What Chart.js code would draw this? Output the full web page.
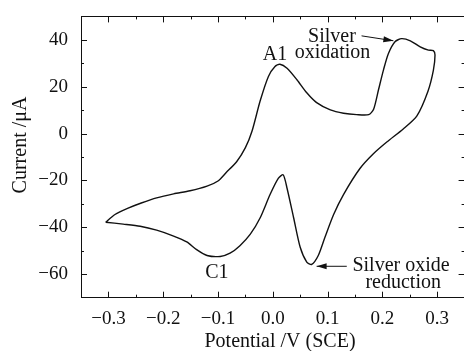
<!DOCTYPE html>
<html>
<head>
<meta charset="utf-8">
<script src="https://cdn.jsdelivr.net/npm/chart.js@4/dist/chart.umd.min.js"></script>
<style>
  html, body { margin: 0; padding: 0; overflow: hidden; background: #fff; }
  #wrap { width: 470px; height: 351px; }
</style>
</head>
<body>
<div id="wrap"><canvas id="cv" width="470" height="351"></canvas></div>
<script>
// Voltamograma (ordem do varrimento, a partir da ponta à esquerda)
const potencial = [
  -0.305, -0.288, -0.264, -0.240, -0.212, -0.181, -0.151, -0.120, -0.100, -0.085,
  -0.066, -0.050, -0.038, -0.023, -0.008, 0.004, 0.013, 0.026, 0.044, 0.062,
  0.080, 0.105, 0.129, 0.153, 0.175, 0.184, 0.193, 0.202, 0.211, 0.223,
  0.235, 0.251, 0.269, 0.284, 0.293, 0.296, 0.293, 0.283, 0.263, 0.238,
  0.208, 0.184, 0.159, 0.129, 0.111, 0.095, 0.083, 0.071, 0.062, 0.050,
  0.038, 0.026, 0.019, 0.010, -0.005, -0.023, -0.041, -0.060, -0.078, -0.096,
  -0.120, -0.139, -0.157, -0.181, -0.212, -0.242, -0.273, -0.305
];
const corrente = [
  -37.8, -34.5, -31.8, -29.6, -27.4, -25.7, -24.4, -22.4, -20.2, -16.6,
  -12.0, -6.0, 1.0, 14.0, 24.4, 28.6, 29.6, 27.9, 23.0, 17.4,
  13.2, 10.1, 8.7, 8.1, 8.1, 10.4, 18.8, 27.2, 34.2, 39.2,
  40.5, 39.6, 37.0, 35.6, 35.4, 33.5, 27.0, 18.0, 7.6, 2.0,
  -3.6, -8.5, -14.9, -26.0, -34.5, -44.3, -52.0, -55.8, -54.8, -48.5,
  -35.9, -23.3, -17.6, -19.1, -26.0, -35.9, -42.9, -47.8, -51.0, -52.4,
  -52.0, -49.5, -46.2, -43.7, -41.2, -39.5, -38.6, -37.8
];

// Escalas e marcas
const xMajor = [-0.3, -0.2, -0.1, 0.0, 0.1, 0.2, 0.3];
const xLabels = ['−0.3', '−0.2', '−0.1', '0.0', '0.1', '0.2', '0.3'];
const xMinor = [-0.25, -0.15, -0.05, 0.05, 0.15, 0.25];
const yMajor = [-60, -40, -20, 0, 20, 40];
const yLabels = ['−60', '−40', '−20', '0', '20', '40'];
const yMinor = [-50, -30, -10, 10, 30];

// Anotações (em unidades dos eixos)
const notaTexto = ['A1', 'Silver', 'oxidation', 'C1', 'Silver oxide', 'reduction'];
const notaX = [0.004, 0.108, 0.109, -0.102, 0.234, 0.238];
const notaY = [31.3, 39.2, 32.1, -61.7, -58.7, -65.9];
const setaDe = [[0.162, 41.7], [0.135, -56.6]];
const setaPara = [[0.220, 39.6], [0.080, -56.6]];

const fonte = '"Liberation Serif", "Times New Roman", serif';
const cor = '#111';

function desenharSeta(ctx, x0, y0, x1, y1) {
    ctx.beginPath();
    ctx.moveTo(x0, y0);
    ctx.lineTo(x1, y1);
    ctx.stroke();
    let ang = Math.atan2(y1 - y0, x1 - x0);
    let L = 10, W = 3;
    ctx.beginPath();
    ctx.moveTo(x1, y1);
    ctx.lineTo(x1 - L * Math.cos(ang) + W * Math.sin(ang), y1 - L * Math.sin(ang) - W * Math.cos(ang));
    ctx.lineTo(x1 - L * Math.cos(ang) - W * Math.sin(ang), y1 - L * Math.sin(ang) + W * Math.cos(ang));
    ctx.closePath();
    ctx.fill();
}

// Moldura, marcas para dentro, anotações e títulos
const moldura = {
    id: 'moldura',
    afterDraw(chart) {
        const { ctx, chartArea: a, scales: { x, y } } = chart;
        ctx.save();
        ctx.strokeStyle = cor;
        ctx.fillStyle = cor;
        ctx.lineWidth = 1;
        ctx.strokeRect(Math.round(a.left) + 0.5, Math.round(a.top) + 0.5,
            Math.round(a.right - a.left), Math.round(a.bottom - a.top));

        ctx.beginPath();
        const marcaX = (v, len) => {
            let px = Math.round(x.getPixelForValue(v)) + 0.5;
            ctx.moveTo(px, a.bottom); ctx.lineTo(px, a.bottom - len);
            ctx.moveTo(px, a.top); ctx.lineTo(px, a.top + len);
        };
        const marcaY = (v, len) => {
            let py = Math.round(y.getPixelForValue(v)) + 0.5;
            ctx.moveTo(a.left, py); ctx.lineTo(a.left + len, py);
            ctx.moveTo(a.right, py); ctx.lineTo(a.right - len, py);
        };
        xMajor.forEach(v => marcaX(v, 6));
        xMinor.forEach(v => marcaX(v, 3));
        yMajor.forEach(v => marcaY(v, 6));
        yMinor.forEach(v => marcaY(v, 3));
        ctx.stroke();

        ctx.font = '20px ' + fonte;
        ctx.textAlign = 'center';
        ctx.textBaseline = 'alphabetic';
        notaTexto.forEach((t, i) => {
            ctx.fillText(t, x.getPixelForValue(notaX[i]), y.getPixelForValue(notaY[i]));
        });

        setaDe.forEach((p, i) => {
            desenharSeta(ctx, x.getPixelForValue(p[0]), y.getPixelForValue(p[1]),
                x.getPixelForValue(setaPara[i][0]), y.getPixelForValue(setaPara[i][1]));
        });

        // títulos dos eixos
        ctx.fillText('Potential /V (SCE)', 280, 347);
        ctx.translate(26, 145);
        ctx.rotate(-Math.PI / 2);
        ctx.fillText('Current /μA', 0, 0);
        ctx.restore();
    }
};

const pontos = potencial.map((v, i) => ({ x: v, y: corrente[i] }));

new Chart(document.getElementById('cv'), {
    type: 'scatter',
    data: {
        datasets: [{
            data: pontos,
            showLine: true,
            borderColor: cor,
            borderWidth: 1.4,
            pointRadius: 0,
            tension: 0.25,
            fill: false
        }]
    },
    options: {
        responsive: false,
        animation: false,
        devicePixelRatio: 1,
        layout: { padding: { left: 0, top: 12.7, right: 5.4, bottom: 0 } },
        plugins: { legend: { display: false }, tooltip: { enabled: false } },
        scales: {
            x: {
                type: 'linear',
                min: -0.35, max: 0.35,
                grid: { display: false },
                border: { display: false },
                afterBuildTicks: s => { s.ticks = xMajor.map(v => ({ value: v })); },
                afterFit: s => { s.height = 53.3; },
                ticks: {
                    color: cor,
                    padding: 2,
                    maxRotation: 0,
                    font: { family: fonte, size: 19 },
                    callback: (v, i) => xLabels[i]
                }
            },
            y: {
                type: 'linear',
                min: -70, max: 50,
                grid: { display: false },
                border: { display: false },
                afterBuildTicks: s => { s.ticks = yMajor.map(v => ({ value: v })); },
                afterFit: s => { s.width = 81; },
                ticks: {
                    color: cor,
                    padding: 5,
                    font: { family: fonte, size: 19 },
                    callback: (v, i) => yLabels[i]
                }
            }
        }
    },
    plugins: [moldura]
});
</script>
</body>
</html>
